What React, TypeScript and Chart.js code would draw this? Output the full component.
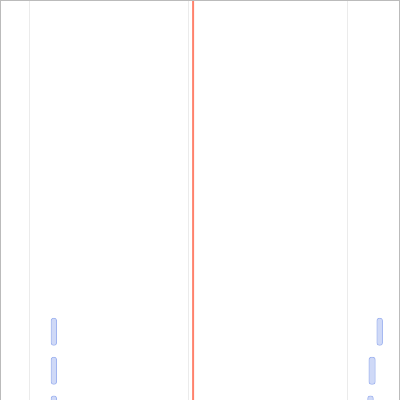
import React, { useEffect, useRef } from 'react';
import { Chart, registerables } from 'chart.js';

Chart.register(...registerables);

// Row categories (labels are not shown in the picture)
const categories = [
  'Row 1', 'Row 2', 'Row 3', 'Row 4', 'Row 5', 'Row 6',
  'Row 7', 'Row 8', 'Row 9', 'Row 10', 'Row 11', 'Row 12',
];

// Floating ranges [start, end] per row; null = no bar visible
const seriesA: ([number, number] | null)[] = [
  null, null, null, null, null, null, null, null,
  [1.33, 1.73], [1.33, 1.73], [1.33, 1.73], null,
];
const seriesB: ([number, number] | null)[] = [
  null, null, null, null, null, null, null, null,
  [21.85, 22.26], [21.35, 21.8], [21.27, 21.68], null,
];

// Vertical grid positions on the value axis
const xTicks = [0, 10, 20];
const xMin = -1.8;
const xMax = 23.27;

// Red marker line value
const markerValue = 10.3;

const markerPlugin = {
  id: 'markerLine',
  afterDatasetsDraw(chart: any) {
    const { ctx, chartArea, scales } = chart;
    const x = scales.x.getPixelForValue(markerValue);
    ctx.save();
    ctx.strokeStyle = 'rgba(255, 99, 71, 0.8)';
    ctx.lineWidth = 2;
    ctx.beginPath();
    ctx.moveTo(x, chartArea.top);
    ctx.lineTo(x, chartArea.bottom);
    ctx.stroke();
    ctx.restore();
  },
};

export default function App() {
  const canvasRef = useRef<HTMLCanvasElement | null>(null);

  useEffect(() => {
    if (!canvasRef.current) return;
    const barStyle = {
      backgroundColor: 'rgba(65, 105, 225, 0.25)',
      borderColor: 'rgba(65, 105, 225, 0.5)',
      borderWidth: 1,
      borderRadius: 3,
      borderSkipped: false as const,
      grouped: false,
    };
    const chart = new Chart(canvasRef.current, {
      type: 'bar',
      data: {
        labels: categories,
        datasets: [
          { label: 'A', data: seriesA as any, ...barStyle },
          { label: 'B', data: seriesB as any, ...barStyle },
        ],
      },
      options: {
        indexAxis: 'y',
        animation: false,
        responsive: true,
        maintainAspectRatio: false,
        layout: { padding: 0 },
        plugins: {
          legend: { display: false },
          tooltip: { enabled: false },
          title: { display: false },
        },
        scales: {
          x: {
            type: 'linear',
            min: xMin,
            max: xMax,
            afterBuildTicks: (scale: any) => {
              scale.ticks = xTicks.map((v) => ({ value: v }));
            },
            ticks: { display: false, includeBounds: false },
            grid: { display: true, drawTicks: false, color: 'rgba(0,0,0,0.08)' },
            border: { display: false },
          },
          y: {
            display: false,
            grid: { display: false },
          },
        },
      },
      plugins: [markerPlugin],
    });
    return () => chart.destroy();
  }, []);

  return (
    <div
      style={{
        position: 'fixed',
        top: 0,
        left: 0,
        width: 400,
        height: 400,
        overflow: 'hidden',
        background: '#fff',
      }}
    >
      <div
        style={{
          width: 400,
          height: 469,
          border: '1px solid #bbb',
          boxSizing: 'border-box',
        }}
      >
        <div style={{ position: 'relative', width: 398, height: 467 }}>
          <canvas ref={canvasRef} />
        </div>
      </div>
    </div>
  );
}
